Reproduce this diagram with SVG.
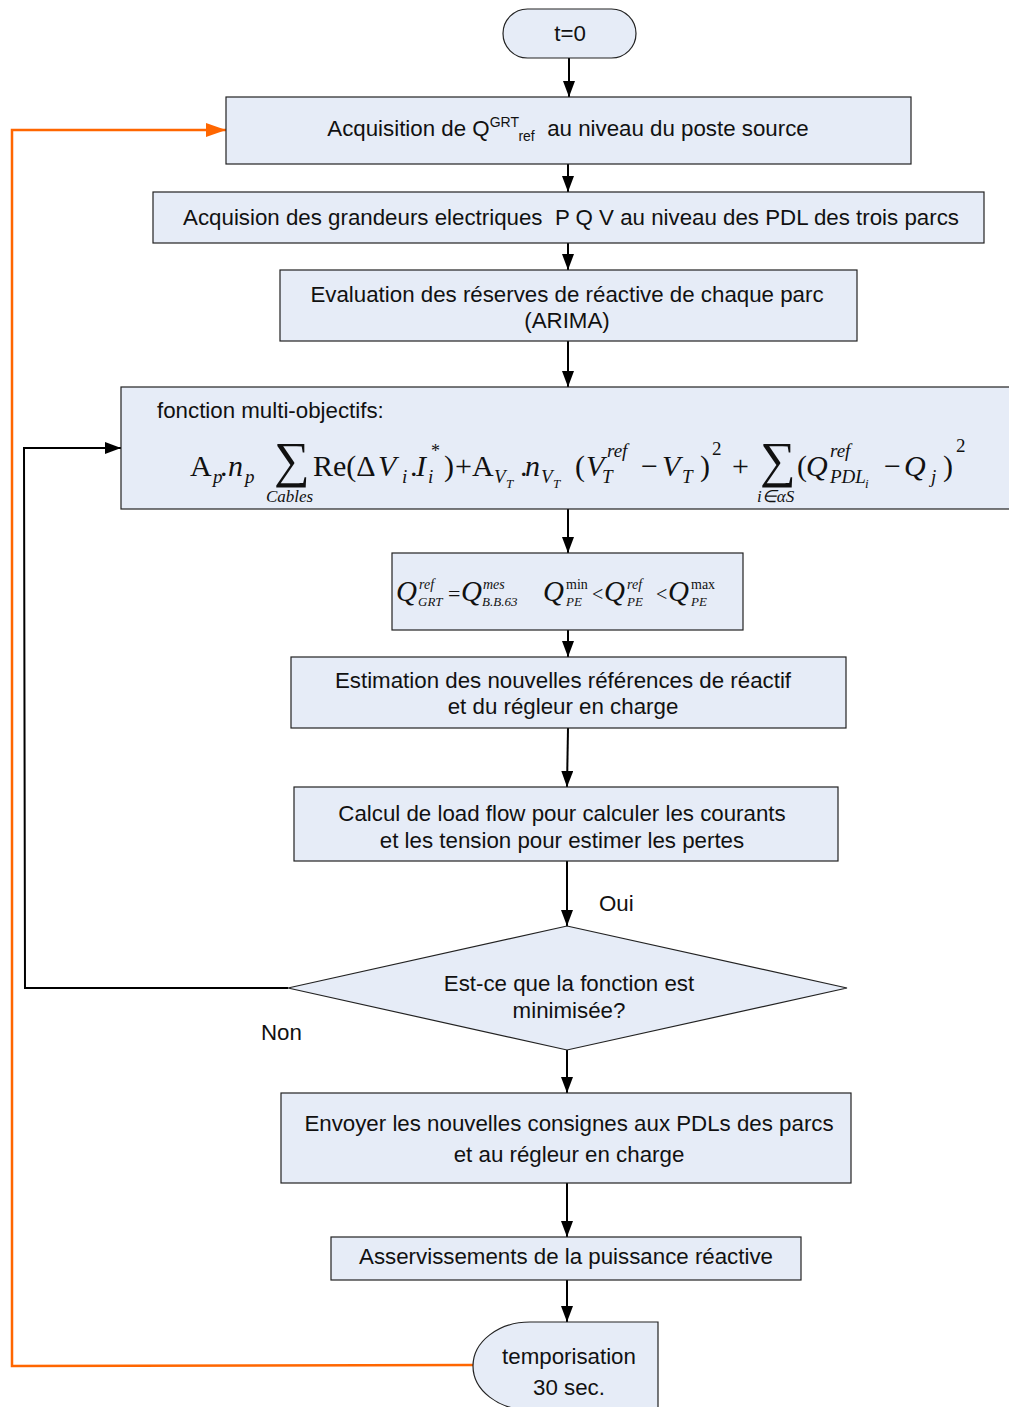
<svg xmlns="http://www.w3.org/2000/svg" width="1009" height="1407" viewBox="0 0 1009 1407">
<style>
.box{fill:#e6ecf7;stroke:#222;stroke-width:1.2}
.t{font-family:"Liberation Sans",Arial,sans-serif;font-size:22.3px;fill:#111;text-anchor:middle}
.tl{font-family:"Liberation Sans",Arial,sans-serif;font-size:22.3px;fill:#111}
.m{font-family:"Liberation Serif","Times New Roman",serif;fill:#111}
.i{font-style:italic}
.c{fill:none;stroke:#000;stroke-width:2}
.o{fill:none;stroke:#ff6600;stroke-width:2.5}
</style>
<defs>
<marker id="ab" markerWidth="16" markerHeight="12" refX="16" refY="6" orient="auto" markerUnits="userSpaceOnUse"><path d="M0,0 L16,6 L0,12 Z" fill="#000"/></marker>
<marker id="ao" markerWidth="20" markerHeight="14" refX="20" refY="7" orient="auto" markerUnits="userSpaceOnUse"><path d="M0,0 L20,7 L0,14 Z" fill="#ff6600"/></marker>
</defs>

<g id="connectors">
<line class="c" x1="569" y1="58" x2="569" y2="97" marker-end="url(#ab)"/>
<line class="c" x1="568" y1="164" x2="568" y2="192" marker-end="url(#ab)"/>
<line class="c" x1="568" y1="243" x2="568" y2="270" marker-end="url(#ab)"/>
<line class="c" x1="568" y1="341" x2="568" y2="387" marker-end="url(#ab)"/>
<line class="c" x1="568" y1="509" x2="568" y2="553" marker-end="url(#ab)"/>
<line class="c" x1="568" y1="630" x2="568" y2="657" marker-end="url(#ab)"/>
<line class="c" x1="568" y1="728" x2="567" y2="787" marker-end="url(#ab)"/>
<line class="c" x1="567" y1="861" x2="567" y2="926" marker-end="url(#ab)"/>
<line class="c" x1="567" y1="1050" x2="567" y2="1093" marker-end="url(#ab)"/>
<line class="c" x1="567" y1="1183" x2="567" y2="1237" marker-end="url(#ab)"/>
<line class="c" x1="567" y1="1280" x2="567" y2="1322" marker-end="url(#ab)"/>
<polyline class="c" points="288,988 25,988 24,448 121,448" marker-end="url(#ab)"/>
<polyline class="o" points="473,1365 12,1366 12,130 226,130" marker-end="url(#ao)"/>
<text class="tl" x="599" y="911">Oui</text>
<text class="tl" x="261" y="1040">Non</text>
</g>

<g id="start">
<rect class="box" x="503" y="9" width="133" height="49" rx="24.5"/>
<text class="t" x="570" y="41">t=0</text>
</g>

<g id="acq-q">
<rect class="box" x="226" y="97" width="685" height="67"/>
<text class="t" x="568" y="136" xml:space="preserve">Acquisition de Q<tspan font-size="14" dy="-9">GRT</tspan><tspan font-size="14" dy="14">ref</tspan><tspan dy="-5">  au niveau du poste source</tspan></text>
</g>

<g id="acq-pqv">
<rect class="box" x="153" y="192" width="831" height="51"/>
<text class="t" x="571" y="225" xml:space="preserve">Acquision des grandeurs electriques  P Q V au niveau des PDL des trois parcs</text>
</g>

<g id="eval">
<rect class="box" x="280" y="270" width="577" height="71"/>
<text class="t" x="567" y="302">Evaluation des réserves de réactive de chaque parc</text>
<text class="t" x="567" y="328">(ARIMA)</text>
</g>

<g id="fonction">
<rect class="box" x="121" y="387" width="892" height="122"/>
<text class="tl" x="157" y="418">fonction multi-objectifs:</text>
<g class="m" font-size="30">
<text x="190" y="476">A</text>
<text x="213" y="483" font-size="19" class="i">p</text>
<text x="220" y="476">.</text>
<text x="228" y="476" class="i">n</text>
<text x="245" y="483" font-size="19" class="i">p</text>
<text x="274" y="477" font-size="50">∑</text>
<text x="266" y="502" font-size="17" class="i">Cables</text>
<text x="313" y="476">Re(Δ</text>
<text x="378" y="476" class="i">V</text>
<text x="402" y="483" font-size="19" class="i">i</text>
<text x="410" y="476">.</text>
<text x="416" y="476" class="i">I</text>
<text x="428" y="483" font-size="19" class="i">i</text>
<text x="431" y="457" font-size="18">*</text>
<text x="444" y="476">)</text>
<text x="455" y="476">+</text>
<text x="472" y="476">A</text>
<text x="494" y="483" font-size="19" class="i">V</text>
<text x="506" y="488" font-size="13" class="i">T</text>
<text x="520" y="476">.</text>
<text x="525" y="476" class="i">n</text>
<text x="541" y="483" font-size="19" class="i">V</text>
<text x="553" y="488" font-size="13" class="i">T</text>
<text x="575" y="476">(</text>
<text x="586" y="476" class="i">V</text>
<text x="602" y="483" font-size="19" class="i">T</text>
<text x="607" y="457" font-size="19" class="i">ref</text>
<text x="641" y="476">−</text>
<text x="662" y="476" class="i">V</text>
<text x="682" y="483" font-size="19" class="i">T</text>
<text x="700" y="476">)</text>
<text x="712" y="455" font-size="19">2</text>
<text x="732" y="476">+</text>
<text x="760" y="477" font-size="50">∑</text>
<text x="757" y="502" font-size="17" class="i">i∈αS</text>
<text x="797" y="476">(</text>
<text x="806" y="476" class="i">Q</text>
<text x="830" y="457" font-size="19" class="i">ref</text>
<text x="830" y="483" font-size="19" class="i">PDL</text>
<text x="865" y="488" font-size="13" class="i">i</text>
<text x="884" y="476">−</text>
<text x="904" y="476" class="i">Q</text>
<text x="931" y="483" font-size="19" class="i">j</text>
<text x="943" y="476">)</text>
<text x="956" y="452" font-size="19">2</text>
</g>
</g>

<g id="contraintes">
<rect class="box" x="392" y="553" width="351" height="77"/>
<g class="m" font-size="29">
<text x="396" y="601" class="i">Q</text>
<text x="419" y="589" font-size="14" class="i">ref</text>
<text x="418" y="606" font-size="13" class="i">GRT</text>
<text x="448" y="601" font-size="22">=</text>
<text x="461" y="601" class="i">Q</text>
<text x="483" y="589" font-size="14" class="i">mes</text>
<text x="482" y="606" font-size="13" class="i">B.B.63</text>
<text x="543" y="601" class="i">Q</text>
<text x="566" y="589" font-size="14">min</text>
<text x="566" y="606" font-size="13" class="i">PE</text>
<text x="592" y="601" font-size="20">&lt;</text>
<text x="604" y="601" class="i">Q</text>
<text x="627" y="589" font-size="14" class="i">ref</text>
<text x="627" y="606" font-size="13" class="i">PE</text>
<text x="656" y="601" font-size="20">&lt;</text>
<text x="668" y="601" class="i">Q</text>
<text x="691" y="589" font-size="14">max</text>
<text x="691" y="606" font-size="13" class="i">PE</text>
</g>
</g>

<g id="estimation">
<rect class="box" x="291" y="657" width="555" height="71"/>
<text class="t" x="563" y="688">Estimation des nouvelles références de réactif</text>
<text class="t" x="563" y="714">et du régleur en charge</text>
</g>

<g id="loadflow">
<rect class="box" x="294" y="787" width="544" height="74"/>
<text class="t" x="562" y="821">Calcul de load flow pour calculer les courants</text>
<text class="t" x="562" y="848">et les tension pour estimer les pertes</text>
</g>

<g id="decision">
<polygon class="box" points="567,926 847,988 567,1050 288,988"/>
<text class="t" x="569" y="991">Est-ce que la fonction est</text>
<text class="t" x="569" y="1018">minimisée?</text>
</g>

<g id="envoyer">
<rect class="box" x="281" y="1093" width="570" height="90"/>
<text class="t" x="569" y="1131">Envoyer les nouvelles consignes aux PDLs des parcs</text>
<text class="t" x="569" y="1162">et au régleur en charge</text>
</g>

<g id="asserv">
<rect class="box" x="331" y="1237" width="470" height="43"/>
<text class="t" x="566" y="1264">Asservissements de la puissance réactive</text>
</g>

<g id="tempo">
<path class="box" d="M658,1322 L530,1322 A57,44 0 0 0 530,1410 L658,1410 Z"/>
<text class="t" x="569" y="1364">temporisation</text>
<text class="t" x="569" y="1395">30 sec.</text>
</g>
</svg>
